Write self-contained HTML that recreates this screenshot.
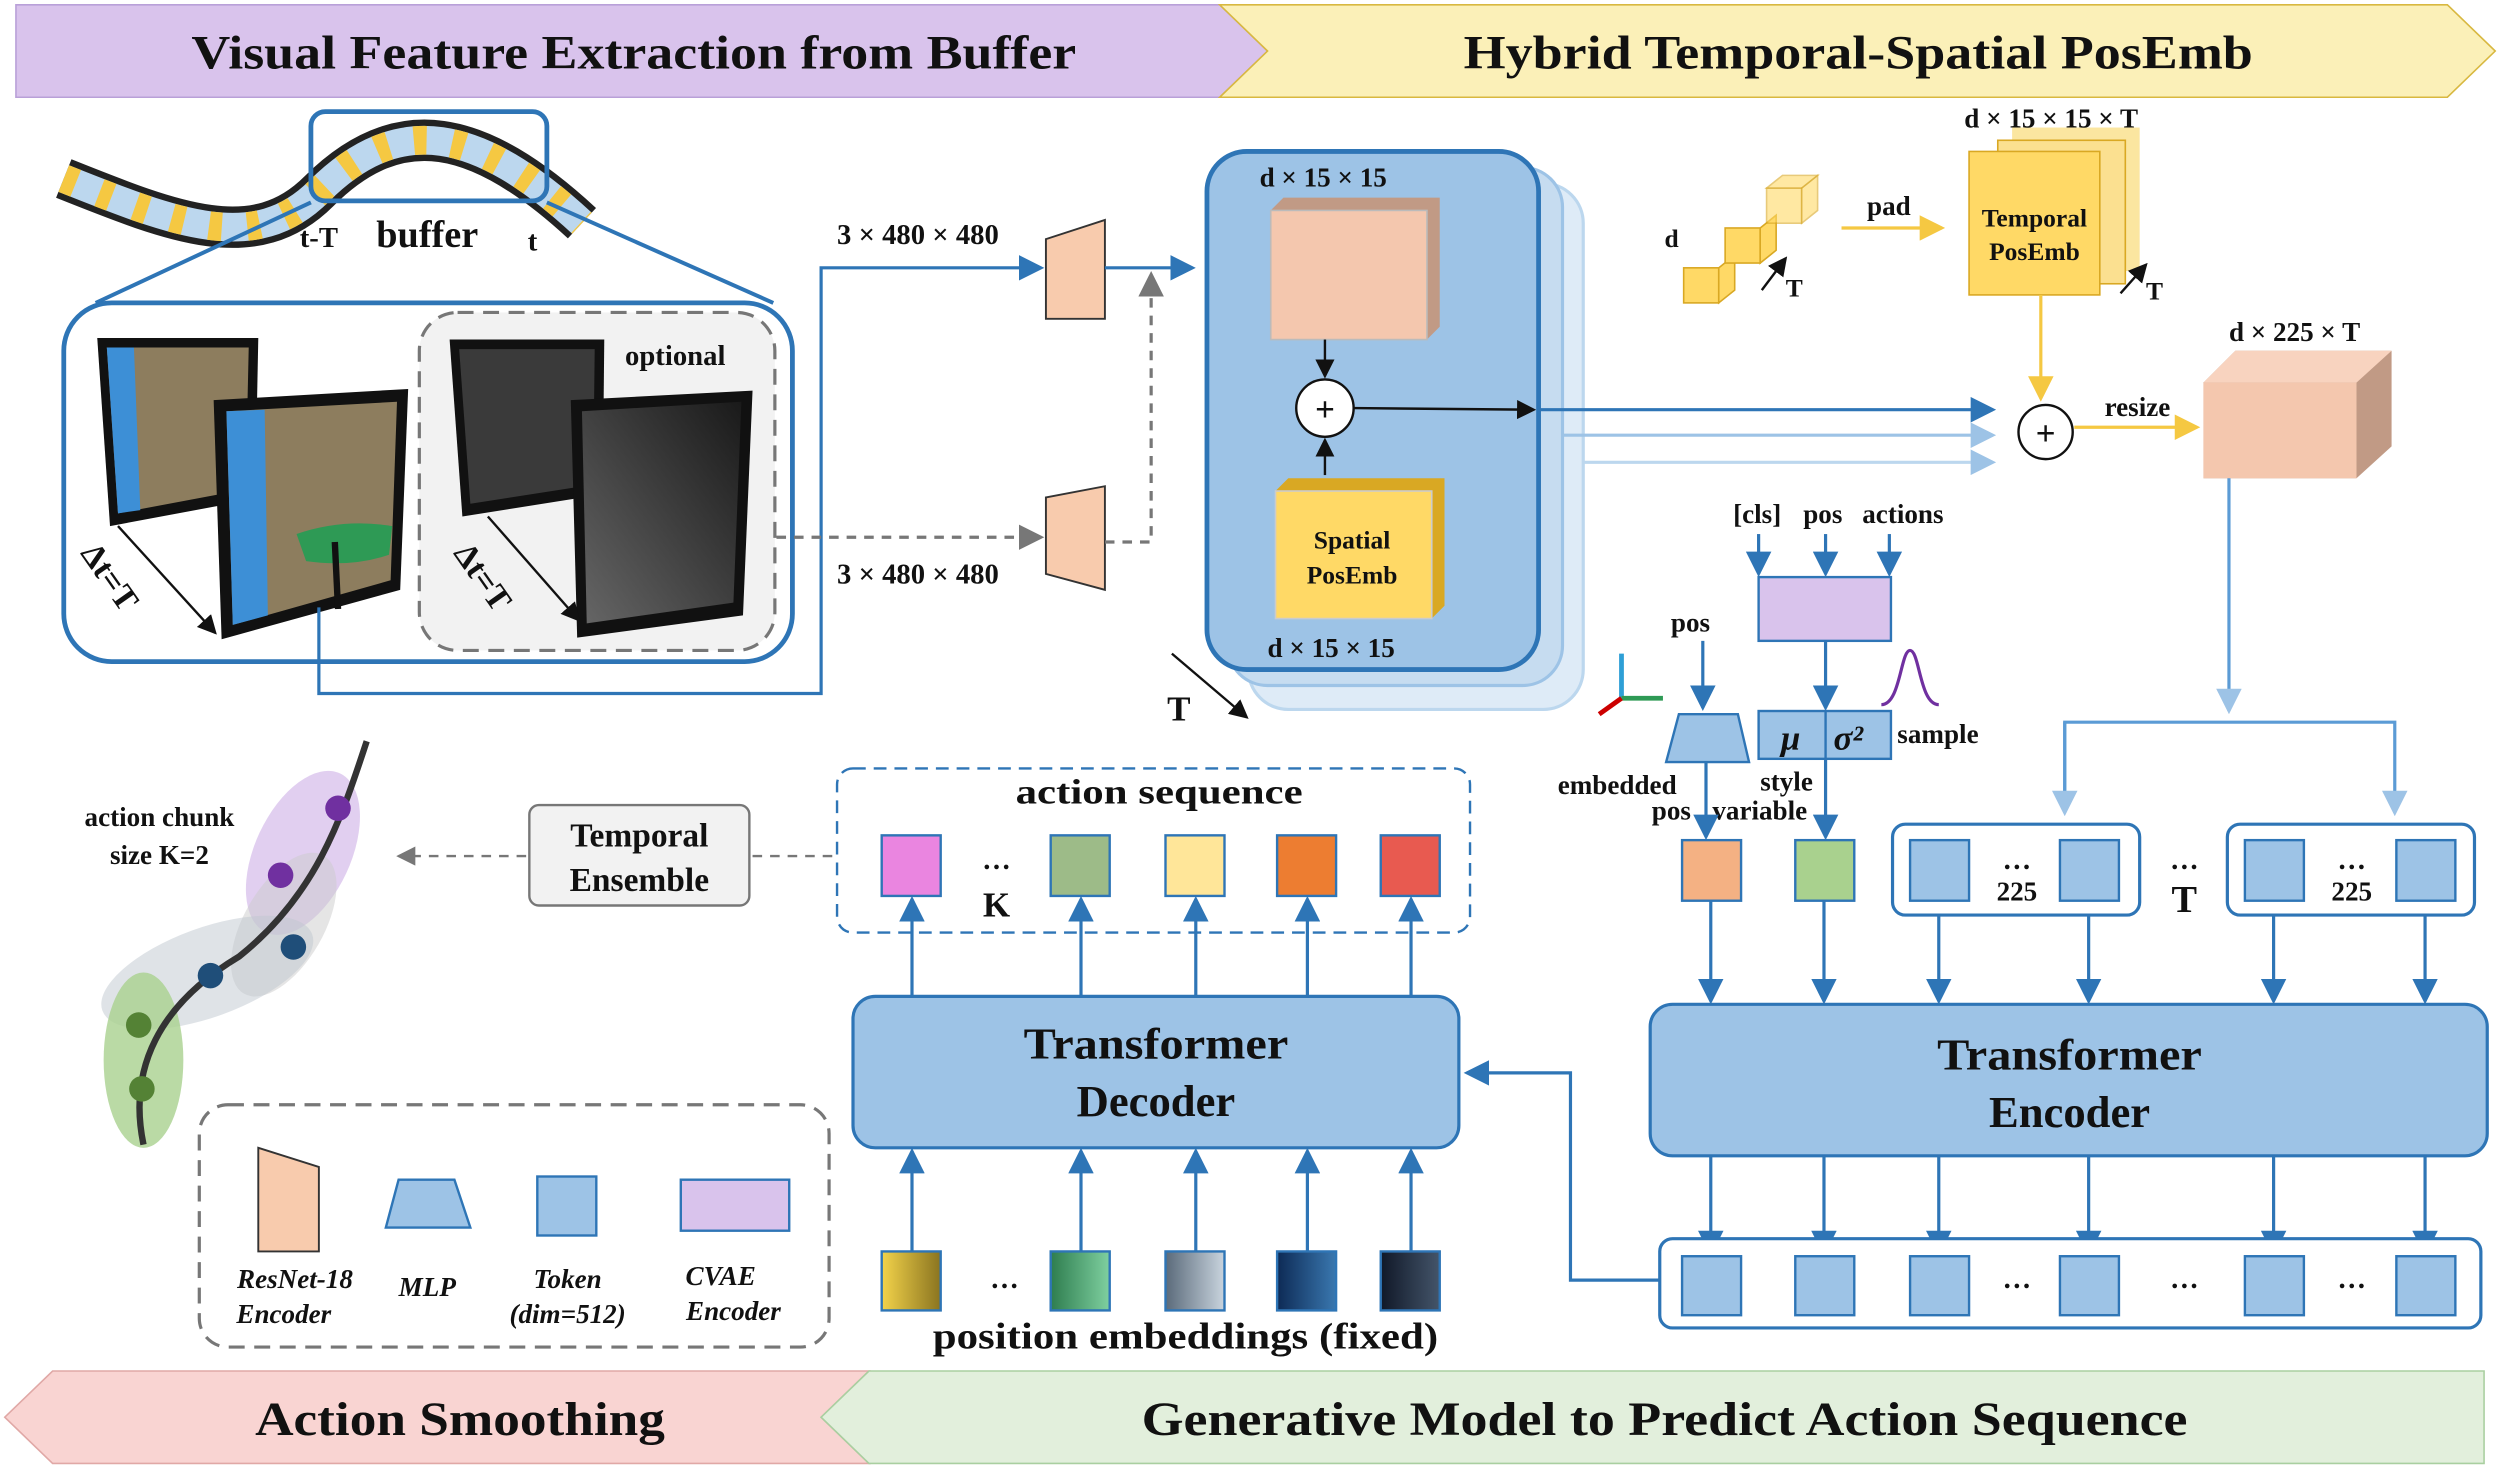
<!DOCTYPE html>
<html><head><meta charset="utf-8"><style>
html,body{margin:0;padding:0;background:#fff}
svg{display:block}
text{font-family:"Liberation Serif",serif;font-weight:bold;fill:#111}
</style></head><body>
<svg width="2500" height="1481" viewBox="0 0 1568 929" preserveAspectRatio="none" xmlns="http://www.w3.org/2000/svg">
<defs>
<marker id="ab" markerWidth="8" markerHeight="8" refX="7" refY="4" orient="auto"><path d="M0,0L8,4L0,8z" fill="#2e75b6"/></marker>
<marker id="ak" markerWidth="8" markerHeight="8" refX="7" refY="4" orient="auto"><path d="M0,0L8,4L0,8z" fill="#111"/></marker>
<marker id="ag" markerWidth="8" markerHeight="8" refX="7" refY="4" orient="auto"><path d="M0,0L8,4L0,8z" fill="#777"/></marker>
<marker id="ay" markerWidth="8" markerHeight="8" refX="7" refY="4" orient="auto"><path d="M0,0L8,4L0,8z" fill="#f5c842"/></marker>
<marker id="al" markerWidth="8" markerHeight="8" refX="7" refY="4" orient="auto"><path d="M0,0L8,4L0,8z" fill="#9dc3e6"/></marker>
<linearGradient id="g1" x1="0" x2="1"><stop offset="0" stop-color="#f3d34a"/><stop offset="1" stop-color="#8a7420"/></linearGradient>
<linearGradient id="g2" x1="0" x2="1"><stop offset="0" stop-color="#2e7d4f"/><stop offset="1" stop-color="#7fd0a0"/></linearGradient>
<linearGradient id="g3" x1="0" x2="1"><stop offset="0" stop-color="#5a6a7a"/><stop offset="1" stop-color="#c9d4de"/></linearGradient>
<linearGradient id="g4" x1="0" x2="1"><stop offset="0" stop-color="#0d2a55"/><stop offset="1" stop-color="#3a78b0"/></linearGradient>
<linearGradient id="g5" x1="0" x2="1"><stop offset="0" stop-color="#101828"/><stop offset="1" stop-color="#44556a"/></linearGradient>
<linearGradient id="dg" x1="0" x2="1" y1="1" y2="0"><stop offset="0" stop-color="#666"/><stop offset="1" stop-color="#1a1a1a"/></linearGradient>
</defs>

<!-- banners -->
<polygon points="10,3 765,3 795,32 765,61 10,61" fill="#d9c3ec" stroke="#b9a0d8"/>
<text x="120" y="43" font-size="30" textLength="555" lengthAdjust="spacingAndGlyphs">Visual Feature Extraction from Buffer</text>
<polygon points="765,3 1535,3 1565,32 1535,61 765,61 795,32" fill="#fbf0b8" stroke="#d8b840"/>
<text x="918" y="43" font-size="30" textLength="495" lengthAdjust="spacingAndGlyphs">Hybrid Temporal-Spatial PosEmb</text>
<polygon points="3,889 33,860 545,860 515,889 545,918 33,918" fill="#f9d4d2" stroke="#e0a8a6"/>
<text x="160" y="900" font-size="30" textLength="257" lengthAdjust="spacingAndGlyphs">Action Smoothing</text>
<polygon points="545,860 1558,860 1558,918 545,918 515,889" fill="#e2efdc" stroke="#a9cfa0"/>
<text x="716" y="900" font-size="30" textLength="656" lengthAdjust="spacingAndGlyphs">Generative Model to Predict Action Sequence</text>

<!-- film strip -->
<path d="M40,112 C110,140 160,160 200,120 C250,70 300,80 365,140" fill="none" stroke="#222" stroke-width="26"/>
<path d="M40,112 C110,140 160,160 200,120 C250,70 300,80 365,140" fill="none" stroke="#bcd7ee" stroke-width="18"/>
<path d="M40,112 C110,140 160,160 200,120 C250,70 300,80 365,140" fill="none" stroke="#f5c842" stroke-width="18" stroke-dasharray="8,16"/>
<rect x="195" y="70" width="148" height="56" rx="9" fill="none" stroke="#2e75b6" stroke-width="3"/>
<text x="188" y="155" font-size="18">t-T</text>
<text x="236" y="155" font-size="24">buffer</text>
<text x="331" y="157" font-size="18">t</text>
<line x1="195" y1="127" x2="60" y2="190" stroke="#2e75b6" stroke-width="2.5"/>
<line x1="343" y1="127" x2="485" y2="190" stroke="#2e75b6" stroke-width="2.5"/>

<!-- image box -->
<rect x="40" y="190" width="457" height="225" rx="30" fill="#fff" stroke="#2e75b6" stroke-width="3"/>
<rect x="263" y="196" width="223" height="212" rx="24" fill="#f2f2f2" stroke="#777" stroke-width="2" stroke-dasharray="10,6"/>
<text x="392" y="229" font-size="18">optional</text>
<polygon points="61,212 162,212 160,313 69,330" fill="#111"/>
<polygon points="67,218 156,218 154,307 74,322" fill="#8d7d5e"/>
<polygon points="67,218 84,218 88,320 74,322" fill="#3d8fd6"/>
<polygon points="134,251 256,244 251,370 139,401" fill="#111"/>
<polygon points="142,258 249,252 245,364 146,392" fill="#8d7d5e"/>
<polygon points="142,258 166,257 168,386 146,392" fill="#3d8fd6"/>
<path d="M186,335 Q215,325 246,330 L244,348 Q220,356 192,352z" fill="#2e9a55"/>
<line x1="210" y1="340" x2="212" y2="382" stroke="#111" stroke-width="4"/>
<polygon points="282,213 379,213 378,310 290,324" fill="#111"/>
<polygon points="288,219 373,219 372,304 295,316" fill="#3a3a3a"/>
<polygon points="358,251 472,245 466,386 362,400" fill="#111"/>
<polygon points="365,258 465,252 460,378 368,391" fill="url(#dg)"/>
<line x1="74" y1="330" x2="135" y2="397" stroke="#111" stroke-width="1.5" marker-end="url(#ak)"/>
<text transform="translate(50,347) rotate(55)" font-size="21">Δt=T</text>
<line x1="306" y1="324" x2="363" y2="389" stroke="#111" stroke-width="1.5" marker-end="url(#ak)"/>
<text transform="translate(284,347) rotate(55)" font-size="21">Δt=T</text>

<!-- connections to encoders -->
<polyline points="200,381 200,435 515,435 515,168 653,168" fill="none" stroke="#2e75b6" stroke-width="2" marker-end="url(#ab)"/>
<line x1="487" y1="337" x2="653" y2="337" stroke="#777" stroke-width="2" stroke-dasharray="6,5" marker-end="url(#ag)"/>
<text x="525" y="153" font-size="18">3 × 480 × 480</text>
<text x="525" y="366" font-size="18">3 × 480 × 480</text>
<polygon points="656,150 693,138 693,200 656,200" fill="#f8cbad" stroke="#333" stroke-width="1.2"/>
<polygon points="656,312 693,305 693,370 656,360" fill="#f8cbad" stroke="#333" stroke-width="1.2"/>
<polyline points="693,340 722,340 722,172" fill="none" stroke="#777" stroke-width="2" stroke-dasharray="6,5" marker-end="url(#ag)"/>
<line x1="693" y1="168" x2="748" y2="168" stroke="#2e75b6" stroke-width="2" marker-end="url(#ab)"/>

<!-- stacked feature maps -->
<rect x="783" y="115" width="210" height="330" rx="25" fill="#deebf7" stroke="#bcd7ee" stroke-width="2"/>
<rect x="770" y="105" width="210" height="325" rx="25" fill="#c6dcf0" stroke="#9dc3e6" stroke-width="2"/>
<rect x="757" y="95" width="208" height="325" rx="25" fill="#9dc3e6" stroke="#2e75b6" stroke-width="3"/>
<text x="790" y="117" font-size="17">d × 15 × 15</text>
<polygon points="797,132 805,124 903,124 903,205 895,213 797,213" fill="#c19a85"/>
<rect x="797" y="132" width="98" height="81" fill="#f4c7ae" stroke="#bbb"/>
<line x1="831" y1="213" x2="831" y2="236" stroke="#111" stroke-width="1.5" marker-end="url(#ak)"/>
<circle cx="831" cy="256" r="18" fill="#fff" stroke="#111" stroke-width="1.5"/>
<text x="831" y="264" font-size="22" text-anchor="middle" font-weight="normal">+</text>
<line x1="831" y1="298" x2="831" y2="276" stroke="#111" stroke-width="1.5" marker-end="url(#ak)"/>
<polygon points="800,308 808,300 906,300 906,380 898,388 800,388" fill="#d9a823"/>
<rect x="800" y="308" width="98" height="80" fill="#ffd966" stroke="#ccc"/>
<text x="848" y="344" font-size="16" text-anchor="middle">Spatial</text>
<text x="848" y="366" font-size="16" text-anchor="middle">PosEmb</text>
<text x="795" y="412" font-size="17">d × 15 × 15</text>
<line x1="849" y1="256" x2="962" y2="257" stroke="#111" stroke-width="1.5" marker-end="url(#ak)"/>
<line x1="735" y1="410" x2="782" y2="450" stroke="#111" stroke-width="1.5" marker-end="url(#ak)"/>
<text x="732" y="452" font-size="22">T</text>

<line x1="965" y1="257" x2="1250" y2="257" stroke="#2e75b6" stroke-width="2" marker-end="url(#ab)"/>
<line x1="980" y1="273" x2="1250" y2="273" stroke="#9dc3e6" stroke-width="2" marker-end="url(#al)"/>
<line x1="993" y1="290" x2="1250" y2="290" stroke="#bcd7ee" stroke-width="2" marker-end="url(#al)"/>

<!-- temporal posemb -->
<g fill="#ffd966" stroke="#d9a823">
<rect x="1056" y="168" width="22" height="22"/><polygon points="1078,168 1088,160 1088,182 1078,190"/>
<rect x="1082" y="143" width="22" height="22"/><polygon points="1104,143 1114,135 1114,157 1104,165"/>
<rect x="1108" y="118" width="22" height="22" opacity=".6"/><polygon points="1130,118 1140,110 1140,132 1130,140" opacity=".6"/>
<polygon points="1108,118 1118,110 1140,110 1130,118" opacity=".6"/>
</g>
<text x="1044" y="155" font-size="16">d</text>
<line x1="1105" y1="182" x2="1120" y2="162" stroke="#111" stroke-width="1.5" marker-end="url(#ak)"/>
<text x="1120" y="186" font-size="16">T</text>
<text x="1171" y="135" font-size="17">pad</text>
<line x1="1155" y1="143" x2="1218" y2="143" stroke="#f5c842" stroke-width="2" marker-end="url(#ay)"/>
<rect x="1262" y="80" width="80" height="90" fill="#fbe6a0"/>
<rect x="1253" y="88" width="80" height="90" fill="#fbe090" stroke="#d9a823"/>
<rect x="1235" y="95" width="82" height="90" fill="#ffd966" stroke="#d9a823"/>
<text x="1276" y="142" font-size="16" text-anchor="middle">Temporal</text>
<text x="1276" y="163" font-size="16" text-anchor="middle">PosEmb</text>
<text x="1232" y="80" font-size="17">d × 15 × 15 × T</text>
<line x1="1330" y1="184" x2="1346" y2="166" stroke="#111" stroke-width="1.5" marker-end="url(#ak)"/>
<text x="1346" y="188" font-size="16">T</text>
<line x1="1280" y1="185" x2="1280" y2="250" stroke="#f5c842" stroke-width="2" marker-end="url(#ay)"/>
<circle cx="1283" cy="271" r="17" fill="#fff" stroke="#111" stroke-width="1.5"/>
<text x="1283" y="279" font-size="22" text-anchor="middle" font-weight="normal">+</text>
<line x1="1301" y1="268" x2="1378" y2="268" stroke="#f5c842" stroke-width="2" marker-end="url(#ay)"/>
<text x="1320" y="261" font-size="17">resize</text>
<text x="1398" y="214" font-size="17">d × 225 × T</text>
<polygon points="1382,240 1402,220 1500,220 1500,280 1478,300 1382,300" fill="#c19a85"/>
<polygon points="1382,240 1402,220 1500,220 1478,240" fill="#f8d3bf"/>
<rect x="1382" y="240" width="96" height="60" fill="#f4c7ae"/>
<line x1="1398" y1="300" x2="1398" y2="446" stroke="#5b9bd5" stroke-width="2" marker-end="url(#al)"/>
<polyline points="1295,500 1295,453 1502,453 1502,510" fill="none" stroke="#5b9bd5" stroke-width="2" marker-end="url(#al)"/>
<line x1="1295" y1="453" x2="1295" y2="510" stroke="#5b9bd5" stroke-width="2" marker-end="url(#al)"/>

<!-- CVAE section -->
<text x="1087" y="328" font-size="17">[cls]</text>
<text x="1131" y="328" font-size="17">pos</text>
<text x="1168" y="328" font-size="17">actions</text>
<line x1="1103" y1="335" x2="1103" y2="360" stroke="#2e75b6" stroke-width="2" marker-end="url(#ab)"/>
<line x1="1145" y1="335" x2="1145" y2="360" stroke="#2e75b6" stroke-width="2" marker-end="url(#ab)"/>
<line x1="1185" y1="335" x2="1185" y2="360" stroke="#2e75b6" stroke-width="2" marker-end="url(#ab)"/>
<rect x="1103" y="362" width="83" height="40" fill="#d9c3ec" stroke="#2e75b6" stroke-width="1.5"/>
<line x1="1145" y1="402" x2="1145" y2="444" stroke="#2e75b6" stroke-width="2" marker-end="url(#ab)"/>
<rect x="1103" y="446" width="83" height="30" fill="#9dc3e6" stroke="#2e75b6" stroke-width="1.5"/>
<line x1="1145" y1="446" x2="1145" y2="476" stroke="#2e75b6" stroke-width="1.5"/>
<text x="1117" y="470" font-size="22" font-style="italic">μ</text>
<text x="1150" y="470" font-size="22" font-style="italic">σ²</text>
<path d="M1180,442 C1192,442 1192,408 1198,408 C1204,408 1204,442 1216,442" fill="none" stroke="#7030a0" stroke-width="2"/>
<text x="1190" y="466" font-size="17">sample</text>
<text x="1048" y="396" font-size="17">pos</text>
<line x1="1068" y1="402" x2="1068" y2="444" stroke="#2e75b6" stroke-width="2" marker-end="url(#ab)"/>
<polygon points="1053,448 1090,448 1097,478 1045,478" fill="#9dc3e6" stroke="#2e75b6" stroke-width="1.5"/>
<line x1="1017" y1="438" x2="1017" y2="410" stroke="#2e9fd6" stroke-width="3"/>
<line x1="1017" y1="438" x2="1043" y2="438" stroke="#2e9a55" stroke-width="3"/>
<line x1="1017" y1="438" x2="1003" y2="448" stroke="#c00" stroke-width="3"/>
<text x="977" y="498" font-size="17">embedded</text>
<text x="1036" y="514" font-size="17">pos</text>
<text x="1104" y="496" font-size="17">style</text>
<text x="1074" y="514" font-size="17">variable</text>
<line x1="1070" y1="478" x2="1070" y2="525" stroke="#2e75b6" stroke-width="2" marker-end="url(#ab)"/>
<line x1="1145" y1="476" x2="1145" y2="525" stroke="#2e75b6" stroke-width="2" marker-end="url(#ab)"/>
<rect x="1055" y="527" width="37" height="38" fill="#f4b183" stroke="#2e75b6" stroke-width="1.5"/>
<rect x="1126" y="527" width="37" height="38" fill="#a9d18e" stroke="#2e75b6" stroke-width="1.5"/>
<rect x="1187" y="517" width="155" height="57" rx="8" fill="#fff" stroke="#2e75b6" stroke-width="2"/>
<rect x="1198" y="527" width="37" height="38" fill="#9dc3e6" stroke="#2e75b6" stroke-width="1.5"/>
<rect x="1292" y="527" width="37" height="38" fill="#9dc3e6" stroke="#2e75b6" stroke-width="1.5"/>
<text x="1265" y="545" font-size="18" text-anchor="middle">…</text><text x="1265" y="565" font-size="17" text-anchor="middle">225</text>
<text x="1370" y="545" font-size="18" text-anchor="middle">…</text><text x="1370" y="572" font-size="24" text-anchor="middle">T</text>
<rect x="1397" y="517" width="155" height="57" rx="8" fill="#fff" stroke="#2e75b6" stroke-width="2"/>
<rect x="1408" y="527" width="37" height="38" fill="#9dc3e6" stroke="#2e75b6" stroke-width="1.5"/>
<rect x="1503" y="527" width="37" height="38" fill="#9dc3e6" stroke="#2e75b6" stroke-width="1.5"/>
<text x="1475" y="545" font-size="18" text-anchor="middle">…</text><text x="1475" y="565" font-size="17" text-anchor="middle">225</text>
<g stroke="#2e75b6" stroke-width="2" marker-end="url(#ab)">
<line x1="1073" y1="565" x2="1073" y2="628"/><line x1="1144" y1="565" x2="1144" y2="628"/>
<line x1="1216" y1="574" x2="1216" y2="628"/><line x1="1310" y1="574" x2="1310" y2="628"/>
<line x1="1426" y1="574" x2="1426" y2="628"/><line x1="1521" y1="574" x2="1521" y2="628"/>
</g>

<!-- encoder -->
<rect x="1035" y="630" width="525" height="95" rx="14" fill="#9dc3e6" stroke="#2e75b6" stroke-width="2"/>
<text x="1215" y="671" font-size="28" textLength="166" lengthAdjust="spacingAndGlyphs">Transformer</text>
<text x="1298" y="707" font-size="28" text-anchor="middle">Encoder</text>
<g stroke="#2e75b6" stroke-width="2" marker-end="url(#ab)">
<line x1="1073" y1="725" x2="1073" y2="786"/><line x1="1144" y1="725" x2="1144" y2="786"/>
<line x1="1216" y1="725" x2="1216" y2="786"/><line x1="1310" y1="725" x2="1310" y2="786"/>
<line x1="1426" y1="725" x2="1426" y2="786"/><line x1="1521" y1="725" x2="1521" y2="786"/>
</g>
<rect x="1041" y="777" width="515" height="56" rx="8" fill="#fff" stroke="#2e75b6" stroke-width="2"/>
<g fill="#9dc3e6" stroke="#2e75b6" stroke-width="1.5">
<rect x="1055" y="788" width="37" height="37"/><rect x="1126" y="788" width="37" height="37"/>
<rect x="1198" y="788" width="37" height="37"/><rect x="1292" y="788" width="37" height="37"/>
<rect x="1408" y="788" width="37" height="37"/><rect x="1503" y="788" width="37" height="37"/>
</g>
<text x="1265" y="808" font-size="18" text-anchor="middle">…</text>
<text x="1370" y="808" font-size="18" text-anchor="middle">…</text>
<text x="1475" y="808" font-size="18" text-anchor="middle">…</text>
<polyline points="1041,803 985,803 985,673 920,673" fill="none" stroke="#2e75b6" stroke-width="2" marker-end="url(#ab)"/>

<!-- decoder -->
<rect x="535" y="625" width="380" height="95" rx="14" fill="#9dc3e6" stroke="#2e75b6" stroke-width="2"/>
<text x="642" y="664" font-size="28" textLength="166" lengthAdjust="spacingAndGlyphs">Transformer</text>
<text x="725" y="700" font-size="28" text-anchor="middle">Decoder</text>
<rect x="525" y="482" width="397" height="103" rx="10" fill="#fff" stroke="#2e75b6" stroke-width="1.5" stroke-dasharray="8,5"/>
<text x="637" y="504" font-size="22" textLength="180" lengthAdjust="spacingAndGlyphs">action sequence</text>
<rect x="553" y="524" width="37" height="38" fill="#ea85e0" stroke="#2e75b6" stroke-width="1.5"/>
<text x="625" y="545" font-size="18" text-anchor="middle">…</text><text x="625" y="575" font-size="22" text-anchor="middle">K</text>
<rect x="659" y="524" width="37" height="38" fill="#9dbb88" stroke="#2e75b6" stroke-width="1.5"/>
<rect x="731" y="524" width="37" height="38" fill="#ffe699" stroke="#2e75b6" stroke-width="1.5"/>
<rect x="801" y="524" width="37" height="38" fill="#ed7d31" stroke="#2e75b6" stroke-width="1.5"/>
<rect x="866" y="524" width="37" height="38" fill="#e85a50" stroke="#2e75b6" stroke-width="1.5"/>
<g stroke="#2e75b6" stroke-width="2" marker-end="url(#ab)">
<line x1="572" y1="625" x2="572" y2="564"/><line x1="678" y1="625" x2="678" y2="564"/>
<line x1="750" y1="625" x2="750" y2="564"/><line x1="820" y1="625" x2="820" y2="564"/>
<line x1="885" y1="625" x2="885" y2="564"/>
<line x1="572" y1="785" x2="572" y2="722"/><line x1="678" y1="785" x2="678" y2="722"/>
<line x1="750" y1="785" x2="750" y2="722"/><line x1="820" y1="785" x2="820" y2="722"/>
<line x1="885" y1="785" x2="885" y2="722"/>
</g>
<g stroke="#2e75b6" stroke-width="1.5">
<rect x="553" y="785" width="37" height="37" fill="url(#g1)"/>
<rect x="659" y="785" width="37" height="37" fill="url(#g2)"/>
<rect x="731" y="785" width="37" height="37" fill="url(#g3)"/>
<rect x="801" y="785" width="37" height="37" fill="url(#g4)"/>
<rect x="866" y="785" width="37" height="37" fill="url(#g5)"/>
</g>
<text x="630" y="808" font-size="18" text-anchor="middle">…</text>
<text x="585" y="846" font-size="23" textLength="317" lengthAdjust="spacingAndGlyphs">position embeddings (fixed)</text>

<!-- temporal ensemble -->
<line x1="522" y1="537" x2="470" y2="537" stroke="#777" stroke-width="1.5" stroke-dasharray="6,5"/>
<rect x="332" y="505" width="138" height="63" rx="6" fill="#f2f2f2" stroke="#777" stroke-width="1.5"/>
<text x="401" y="531" font-size="21" text-anchor="middle" font-weight="normal">Temporal</text>
<text x="401" y="559" font-size="21" text-anchor="middle" font-weight="normal">Ensemble</text>
<line x1="330" y1="537" x2="250" y2="537" stroke="#777" stroke-width="1.5" stroke-dasharray="6,5" marker-end="url(#ag)"/>
<text x="100" y="518" font-size="17" text-anchor="middle">action chunk</text>
<text x="100" y="542" font-size="17" text-anchor="middle">size K=2</text>

<!-- trajectory -->
<ellipse cx="190" cy="535" rx="30" ry="55" transform="rotate(25 190 535)" fill="#d9c3ec" opacity=".8"/>
<ellipse cx="178" cy="580" rx="25" ry="50" transform="rotate(30 178 580)" fill="#ccc" opacity=".5"/>
<ellipse cx="130" cy="610" rx="70" ry="28" transform="rotate(-20 130 610)" fill="#c0c8d0" opacity=".5"/>
<ellipse cx="90" cy="665" rx="25" ry="55" fill="#a9d18e" opacity=".8"/>
<path d="M230,465 C215,510 200,560 150,600 C100,630 80,670 90,718" fill="none" stroke="#333" stroke-width="4"/>
<circle cx="212" cy="507" r="8" fill="#7030a0"/><circle cx="176" cy="549" r="8" fill="#7030a0"/>
<circle cx="184" cy="594" r="8" fill="#1f4e79"/><circle cx="132" cy="612" r="8" fill="#1f4e79"/>
<circle cx="87" cy="643" r="8" fill="#548235"/><circle cx="89" cy="683" r="8" fill="#548235"/>

<!-- legend -->
<rect x="125" y="693" width="395" height="152" rx="18" fill="#fff" stroke="#777" stroke-width="2" stroke-dasharray="10,6"/>
<polygon points="162,720 200,732 200,785 162,785" fill="#f8cbad" stroke="#333" stroke-width="1.2"/>
<polygon points="250,740 285,740 295,770 242,770" fill="#9dc3e6" stroke="#2e75b6" stroke-width="1.5"/>
<rect x="337" y="738" width="37" height="37" fill="#9dc3e6" stroke="#2e75b6" stroke-width="1.5"/>
<rect x="427" y="740" width="68" height="32" fill="#d9c3ec" stroke="#2e75b6" stroke-width="1.5"/>
<g font-style="italic" font-size="17" text-anchor="middle">
<text x="185" y="808">ResNet-18</text><text x="178" y="830">Encoder</text>
<text x="268" y="813">MLP</text>
<text x="356" y="808">Token</text><text x="356" y="830">(dim=512)</text>
<text x="452" y="806">CVAE</text><text x="460" y="828">Encoder</text>
</g>
</svg>
</body></html>
